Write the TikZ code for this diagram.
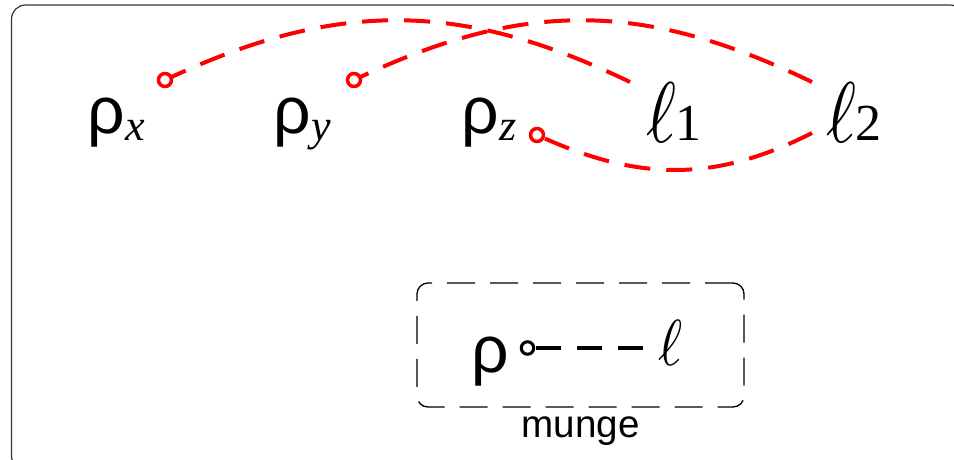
\documentclass[tikz,border=0pt]{standalone}
\usepackage{fontspec}
\usetikzlibrary{arrows.meta,calc}
\newfontfamily\rhofont{Liberation Sans}
\newfontfamily\serfont{Liberation Serif}
\newfontfamily\labfont{Liberation Sans}
\newcommand{\bigrho}{{\fontsize{66}{66}\selectfont\rhofont ρ}}
\newcommand{\rsub}[1]{\raisebox{-7pt}{\fontsize{44}{44}\selectfont\serfont\itshape #1}}
\newcommand{\bigell}{\scalebox{7.2}[8.6]{$\ell$}}
\newcommand{\lsub}[1]{\kern-1pt\raisebox{2pt}{\fontsize{52}{52}\selectfont\serfont #1}}
\begin{document}
\begin{tikzpicture}[x=1pt,y=-1pt,
  lbl/.style={anchor=base west, inner sep=0pt, outer sep=0pt},
  conn/.style={red, line width=4pt, dash pattern=on 26pt off 16pt},
  keyconn/.style={black, line width=4pt, dash pattern=on 25pt off 16pt},
  tipcirc/.style={circle, draw=red, line width=3.5pt, minimum size=13pt, inner sep=0pt, outer sep=0pt},
  keycirc/.style={circle, draw=black, line width=3pt, minimum size=12.5pt, inner sep=0pt, outer sep=0pt},
  mungebox/.style={draw, black, line width=1.3pt, dash pattern=on 28pt off 15pt,
    rounded corners=11pt, minimum width=327pt, minimum height=124pt, inner sep=0pt},
  frame/.style={draw=black!80, line width=1.2pt, rounded corners=14pt},
]
\useasboundingbox (0,0) rectangle (954,459);
\clip (0,0) rectangle (954,459);
\draw[frame] (11.5,5) rectangle (964,470);

% top row
\node[lbl] (rx) at (87.5,133) {\bigrho\rsub{x}};
\node[lbl] (ry) at (273.5,133) {\bigrho\rsub{y}};
\node[lbl] (rz) at (461.5,133) {\bigrho\rsub{z}};
\node[lbl] (l1) at (646,142) {\bigell\lsub{1}};
\node[lbl] (l2) at (826,142) {\bigell\lsub{2}};

% connector end circles
\node[tipcirc] (cx) at ([xshift=77.5pt,yshift=53pt]rx.base west) {};
\node[tipcirc] (cy) at ([xshift=80.5pt,yshift=53pt]ry.base west) {};
\node[tipcirc] (cz) at ([xshift=75.5pt,yshift=-2pt]rz.base west) {};

% connectors
\draw[conn] ([xshift=-16pt,yshift=60pt]l1.base west)
  .. controls +(-166,-80) and +(175,-81) .. (cx);
\draw[conn] ([xshift=-14pt,yshift=60pt]l2.base west)
  .. controls +(-166,-80) and +(173,-81) .. (cy);
\draw[conn] ([xshift=-14pt,yshift=9pt]l2.base west)
  .. controls +(-95,48) and +(105,47) .. (cz);

% key box
\node[mungebox] (box) at (580.5,345) {};
\node[lbl] (krho) at (471,372) {\bigrho};
\node[lbl] (kell) at (658,365) {\scalebox{5.8}[6.5]{$\ell$}};
\node[keycirc] (kc) at ([xshift=56.5pt,yshift=24pt]krho.base west) {};
\draw[keyconn] ([xshift=-15pt,yshift=17pt]kell.base west) -- (kc);
\node[anchor=base, inner sep=0pt] (munge) at (580.5,437) {\fontsize{38.6}{38.6}\selectfont\labfont munge};
\end{tikzpicture}
\end{document}
